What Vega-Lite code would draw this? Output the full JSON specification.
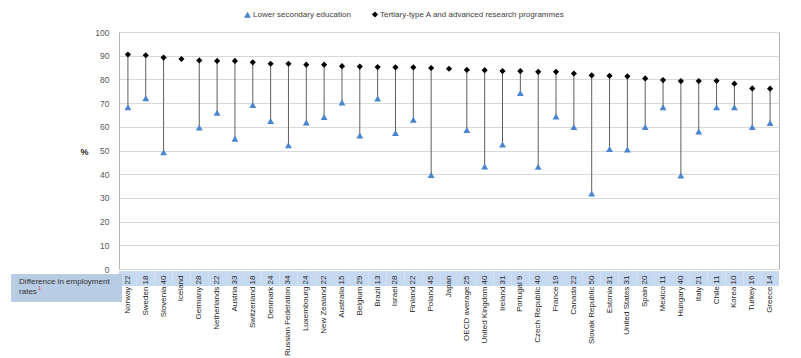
{
  "$schema": "https://vega.github.io/schema/vega-lite/v6.json",
  "width": 660,
  "height": 237,
  "autosize": {"type": "none"},
  "padding": {"left": 119, "top": 32, "right": 22, "bottom": 89},
  "config": {
    "view": {"stroke": "#b3b3b3", "strokeWidth": 1},
    "font": "Liberation Sans",
    "axis": {"labelFont": "Liberation Sans", "titleFont": "Liberation Sans"},
    "axisY": {
      "labelOverlap": false,
      "titleAngle": 0,
      "titleX": -35,
      "titleY": 119,
      "titleAlign": "center",
      "titleBaseline": "middle",
      "titleFontSize": 9,
      "titleFontWeight": "bold",
      "titleColor": "#262626",
      "labelFontSize": 8.5,
      "labelColor": "#595959",
      "labelPadding": 10,
      "ticks": false,
      "domain": false,
      "grid": true,
      "gridColor": "#d9d9d9",
      "gridWidth": 1
    }
  },
  "datasets": {
    "rows": [
      {"label": "Norway 22", "country": "Norway", "diff": 22, "tertiary": 90.5, "lower": 68.2},
      {"label": "Sweden 18", "country": "Sweden", "diff": 18, "tertiary": 90.2, "lower": 72.0},
      {"label": "Slovenia 40", "country": "Slovenia", "diff": 40, "tertiary": 89.2, "lower": 49.3},
      {"label": "Iceland", "country": "Iceland", "diff": null, "tertiary": 88.6, "lower": null},
      {"label": "Germany 28", "country": "Germany", "diff": 28, "tertiary": 88.0, "lower": 59.7},
      {"label": "Netherlands 22", "country": "Netherlands", "diff": 22, "tertiary": 87.8, "lower": 65.9},
      {"label": "Austria 33", "country": "Austria", "diff": 33, "tertiary": 87.8, "lower": 55.0},
      {"label": "Switzerland 18", "country": "Switzerland", "diff": 18, "tertiary": 87.2, "lower": 69.2},
      {"label": "Denmark 24", "country": "Denmark", "diff": 24, "tertiary": 86.6, "lower": 62.4},
      {"label": "Russian Federation 34", "country": "Russian Federation", "diff": 34, "tertiary": 86.6, "lower": 52.2},
      {"label": "Luxembourg 24", "country": "Luxembourg", "diff": 24, "tertiary": 86.2, "lower": 61.8},
      {"label": "New Zealand 22", "country": "New Zealand", "diff": 22, "tertiary": 86.2, "lower": 64.1},
      {"label": "Australia 15", "country": "Australia", "diff": 15, "tertiary": 85.6, "lower": 70.3},
      {"label": "Belgium 29", "country": "Belgium", "diff": 29, "tertiary": 85.4, "lower": 56.3},
      {"label": "Brazil 13", "country": "Brazil", "diff": 13, "tertiary": 85.2, "lower": 71.9},
      {"label": "Israel 28", "country": "Israel", "diff": 28, "tertiary": 85.1, "lower": 57.4},
      {"label": "Finland 22", "country": "Finland", "diff": 22, "tertiary": 85.1, "lower": 63.0},
      {"label": "Poland 45", "country": "Poland", "diff": 45, "tertiary": 84.8, "lower": 39.7},
      {"label": "Japan", "country": "Japan", "diff": null, "tertiary": 84.5, "lower": null},
      {"label": "OECD average 25", "country": "OECD average", "diff": 25, "tertiary": 84.0, "lower": 58.6},
      {"label": "United Kingdom 40", "country": "United Kingdom", "diff": 40, "tertiary": 83.9, "lower": 43.3},
      {"label": "Ireland 31", "country": "Ireland", "diff": 31, "tertiary": 83.5, "lower": 52.5},
      {"label": "Portugal 9", "country": "Portugal", "diff": 9, "tertiary": 83.5, "lower": 74.3},
      {"label": "Czech Republic 40", "country": "Czech Republic", "diff": 40, "tertiary": 83.2, "lower": 43.1},
      {"label": "France 19", "country": "France", "diff": 19, "tertiary": 83.2, "lower": 64.3},
      {"label": "Canada 22", "country": "Canada", "diff": 22, "tertiary": 82.5, "lower": 59.9},
      {"label": "Slovak Republic 50", "country": "Slovak Republic", "diff": 50, "tertiary": 81.7, "lower": 31.9},
      {"label": "Estonia 31", "country": "Estonia", "diff": 31, "tertiary": 81.5, "lower": 50.6},
      {"label": "United States 31", "country": "United States", "diff": 31, "tertiary": 81.3, "lower": 50.4},
      {"label": "Spain 20", "country": "Spain", "diff": 20, "tertiary": 80.4, "lower": 59.9},
      {"label": "Mexico 11", "country": "Mexico", "diff": 11, "tertiary": 79.7, "lower": 68.3},
      {"label": "Hungary 40", "country": "Hungary", "diff": 40, "tertiary": 79.3, "lower": 39.4},
      {"label": "Italy 21", "country": "Italy", "diff": 21, "tertiary": 79.3, "lower": 58.0},
      {"label": "Chile 11", "country": "Chile", "diff": 11, "tertiary": 79.4, "lower": 68.3},
      {"label": "Korea 10", "country": "Korea", "diff": 10, "tertiary": 78.2, "lower": 68.3},
      {"label": "Turkey 16", "country": "Turkey", "diff": 16, "tertiary": 76.2, "lower": 59.9},
      {"label": "Greece 14", "country": "Greece", "diff": 14, "tertiary": 76.1, "lower": 61.6}
    ],
    "note": [
      {"note": "Difference in employment\nrates", "sup": "1"}
    ]
  },
  "layer": [
    {
      "data": {"name": "rows"},
      "encoding": {
        "x": {
          "field": "label",
          "type": "nominal",
          "sort": null,
          "scale": {"paddingInner": 0, "paddingOuter": 0},
          "axis": {
            "title": null,
            "labelAngle": -90,
            "labelFont": "Liberation Sans",
            "labelFontSize": 8,
            "labelColor": "#262626",
            "labelPadding": 6,
            "labelOverlap": false,
            "ticks": false,
            "domain": false,
            "grid": false
          }
        }
      },
      "layer": [
        {
          "mark": {"type": "rect", "color": "#c6d9f1"},
          "encoding": {
            "y": {
              "datum": -0.9,
              "type": "quantitative",
              "scale": {"domain": [0, 100], "nice": false},
              "axis": {"title": "%", "values": [0, 10, 20, 30, 40, 50, 60, 70, 80, 90, 100]}
            },
            "y2": {"datum": -7.2}
          }
        },
        {
          "transform": [{"filter": "datum.lower != null"}],
          "mark": {"type": "rule", "color": "#5f5f5f", "strokeWidth": 1},
          "encoding": {
            "y": {
              "field": "tertiary",
              "type": "quantitative",
              "axis": {"title": "%", "values": [0, 10, 20, 30, 40, 50, 60, 70, 80, 90, 100]}
            },
            "y2": {"field": "lower"}
          }
        },
        {
          "transform": [{"fold": ["lower", "tertiary"], "as": ["series", "value"]}],
          "mark": {"type": "point", "filled": true, "opacity": 1, "strokeWidth": 0},
          "encoding": {
            "y": {
              "field": "value",
              "type": "quantitative",
              "scale": {"domain": [0, 100], "nice": false},
              "axis": {"title": "%", "values": [0, 10, 20, 30, 40, 50, 60, 70, 80, 90, 100]}
            },
            "shape": {
              "field": "series",
              "type": "nominal",
              "scale": {"domain": ["lower", "tertiary"], "range": ["triangle-up", "diamond"]},
              "legend": {
                "title": null,
                "orient": "none",
                "legendX": 124,
                "legendY": -22,
                "direction": "horizontal",
                "columnPadding": 20,
                "labelOffset": 1,
                "symbolSize": 16,
                "labelFontSize": 8,
                "labelColor": "#404040",
                "labelLimit": 400,
                "padding": 0,
                "labelExpr": "datum.value == 'lower' ? 'Lower secondary education' : 'Tertiary-type A and advanced research programmes'"
              }
            },
            "color": {
              "field": "series",
              "type": "nominal",
              "scale": {"domain": ["lower", "tertiary"], "range": ["#4a86d0", "#000000"]},
              "legend": {
                "title": null,
                "orient": "none",
                "legendX": 124,
                "legendY": -22,
                "direction": "horizontal",
                "columnPadding": 20,
                "labelOffset": 1,
                "symbolSize": 16,
                "labelFontSize": 8,
                "labelColor": "#404040",
                "labelLimit": 400,
                "padding": 0,
                "labelExpr": "datum.value == 'lower' ? 'Lower secondary education' : 'Tertiary-type A and advanced research programmes'"
              }
            },
            "size": {
              "field": "series",
              "type": "nominal",
              "scale": {"domain": ["lower", "tertiary"], "range": [48, 38]},
              "legend": null
            }
          }
        }
      ]
    },
    {
      "data": {"name": "note"},
      "encoding": {
        "x": {"datum": -6.05, "type": "quantitative", "scale": {"domain": [0, 37], "nice": false, "zero": false}, "axis": null}
      },
      "layer": [
        {
          "mark": {"type": "rect", "color": "#b8cce4"},
          "encoding": {
            "x2": {"datum": 0.17},
            "y": {"datum": -2.1, "type": "quantitative", "axis": {"title": "%", "values": [0, 10, 20, 30, 40, 50, 60, 70, 80, 90, 100]}},
            "y2": {"datum": -13.9}
          }
        },
        {
          "mark": {"type": "text", "align": "left", "baseline": "top", "fontSize": 8, "color": "#333333", "lineBreak": "\n", "lineHeight": 9.5, "dx": 8},
          "encoding": {
            "y": {"datum": -4.0, "type": "quantitative", "axis": {"title": "%", "values": [0, 10, 20, 30, 40, 50, 60, 70, 80, 90, 100]}},
            "text": {"field": "note"}
          }
        },
        {
          "mark": {"type": "text", "align": "left", "baseline": "middle", "fontSize": 5.5, "color": "#e03c3c", "dx": 27},
          "encoding": {
            "y": {"datum": -8.1, "type": "quantitative", "axis": {"title": "%", "values": [0, 10, 20, 30, 40, 50, 60, 70, 80, 90, 100]}},
            "text": {"field": "sup"}
          }
        }
      ]
    }
  ],
  "resolve": {"scale": {"x": "independent"}}
}
